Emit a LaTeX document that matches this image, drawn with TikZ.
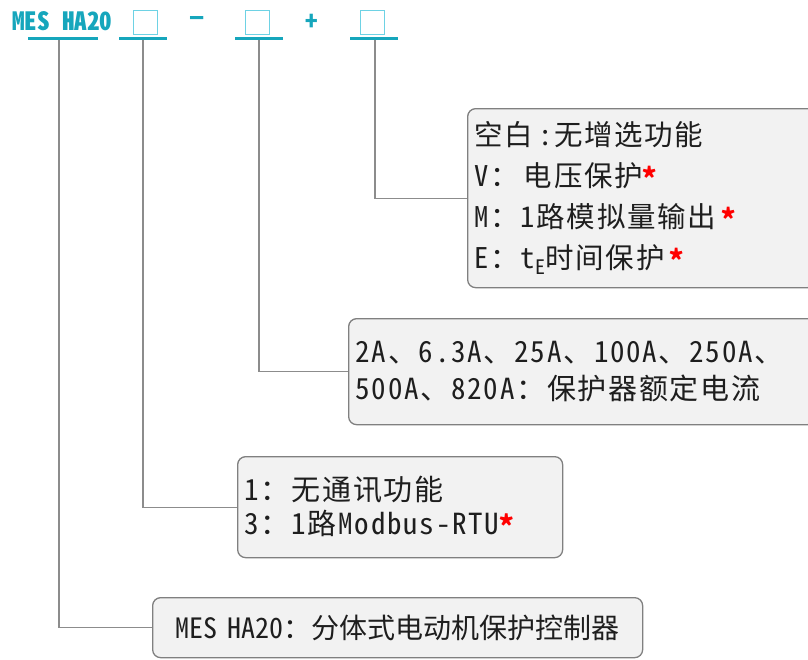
\documentclass[tikz,border=0pt]{standalone}
\usepackage{fontspec}
\usepackage{xcolor}
\usetikzlibrary{positioning}
\newfontfamily\cjk[RawFeature=+hwid]{Noto Sans CJK SC}
\newfontfamily\cjkwide[RawFeature=+hwid,LetterSpace=6]{Noto Sans CJK SC}
\definecolor{codeteal}{RGB}{22,166,188}
\definecolor{sqline}{RGB}{110,210,228}
\definecolor{boxfill}{RGB}{242,242,242}
\definecolor{boxline}{RGB}{128,128,128}
\definecolor{wire}{RGB}{140,140,140}
\definecolor{txt}{RGB}{30,30,30}
\newcommand{\optmark}{\textcolor{red}{\raisebox{-0.2ex}{\bfseries *}}}

\begin{document}
\begin{tikzpicture}[x=1pt,y=-1pt]
	\tikzstyle{box}=[draw=boxline,fill=boxfill,line width=1.3pt,rounded corners=8pt,anchor=north west,inner xsep=7pt,align=left,text=txt]
	\tikzstyle{slot}=[draw=sqline,line width=1pt,minimum size=24pt,inner sep=0pt]
	\tikzstyle{uline}=[draw=codeteal,line width=3pt]
	\tikzstyle{edge}=[draw=wire,line width=1.3pt]
	\tikzstyle{sign}=[text=codeteal,font={\cjk\bfseries\fontsize{25}{25}\selectfont}]

	\useasboundingbox (0,0) rectangle (808,659);

	% model code
	\node [sign] (0) at (62.5,21) {MES HA20};
	\node [slot] (1) at (145,22) {};
	\node [sign] at (197,22) {−};
	\node [slot] (2) at (257.5,22) {};
	\node [sign] at (312,22) {+};
	\node [slot] (3) at (372.5,22) {};

	\path[uline] (28,38.5) -- (98,38.5);
	\path[uline] (119,38.5) -- (167,38.5);
	\path[uline] (235,38.5) -- (283,38.5);
	\path[uline] (350,38.5) -- (398,38.5);

	\coordinate (u0) at (59,40);
	\coordinate (u1) at (143,40);
	\coordinate (u2) at (259,40);
	\coordinate (u3) at (375,40);

	% option boxes
	\node [box,text width=334pt,minimum height=179pt,font={\cjkwide\fontsize{28.5}{41}\selectfont}] (b3) at (467,108)
		{空白\,:无增选功能\\V：\,电压保护\optmark\\M：1路模拟量输出\,\optmark\\E：t\textsubscript{E}时间保护\,\optmark};
	\node [box,text width=453pt,minimum height=106pt,font={\cjkwide\fontsize{29}{37}\selectfont}] (b2) at (348,318)
		{2A、6.3A、25A、100A、250A、\\500A、820A：保护器额定电流};
	\node [box,text width=311pt,minimum height=101pt,font={\cjkwide\fontsize{29}{34}\selectfont}] (b1) at (237,456)
		{1：无通讯功能\\3：1路Modbus-RTU\optmark};
	\node [box,text width=476pt,minimum height=60pt,align=center,font={\cjk\fontsize{28}{34}\selectfont}] (b0) at (152,597)
		{MES HA20：分体式电动机保护控制器};

	\path[edge] (u3) |- (b3.west);
	\path[edge] (u2) |- (b2.west);
	\path[edge] (u1) |- (b1.west);
	\path[edge] (u0) |- (b0.west);
\end{tikzpicture}
\end{document}
